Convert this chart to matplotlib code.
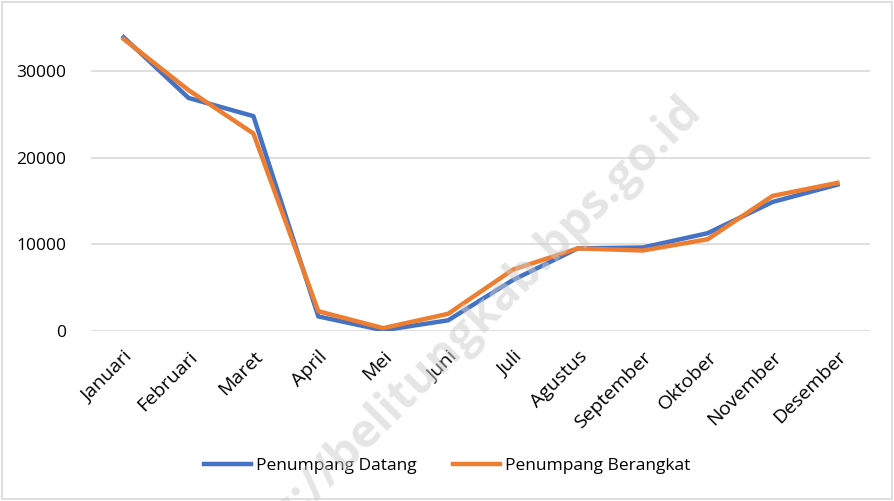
import matplotlib.pyplot as plt
from matplotlib.patches import Rectangle

bulan = ["Januari", "Februari", "Maret", "April", "Mei", "Juni", "Juli",
         "Agustus", "September", "Oktober", "November", "Desember"]
datang = [33900, 26900, 24800, 1700, 100, 1250, 5900, 9550, 9650, 11300, 14900, 16900]
berangkat = [33700, 27800, 22800, 2300, 350, 2000, 7100, 9550, 9300, 10600, 15600, 17100]
y_ticks = [0, 10000, 20000, 30000]

plt.rcParams['font.family'] = ['Open Sans', 'DejaVu Sans']

fig = plt.figure(figsize=(8.94, 5.01), dpi=100)
ax = fig.add_axes([0.102, 0.339, 0.871, 0.623])

x = list(range(len(bulan)))
ax.plot(x, datang, color="#4472C4", lw=3.2, label="Penumpang Datang",
        solid_joinstyle="round", zorder=3)
ax.plot(x, berangkat, color="#ED7D31", lw=3.2, label="Penumpang Berangkat",
        solid_joinstyle="round", zorder=4)

ax.set_xlim(-0.5, len(bulan) - 0.5)
ax.set_ylim(0, 36000)
ax.set_yticks(y_ticks)
ax.set_yticklabels([str(v) for v in y_ticks], fontsize=12.5, color="#000000")
ax.set_xticks(x)
ax.set_xticklabels(bulan, rotation=45, ha="right", rotation_mode="anchor",
                   fontsize=14)
ax.tick_params(axis="both", length=0)
ax.tick_params(axis="y", pad=18)
ax.tick_params(axis="x", pad=12)
ax.grid(axis="y", color="#d9d9d9", lw=1.2)
ax.set_axisbelow(True)
for s in ax.spines.values():
    s.set_visible(False)

fig.legend(loc="center", bbox_to_anchor=(0.5, 0.07), ncol=2, frameon=False,
           fontsize=12.5, handlelength=2.7, columnspacing=2.1, handletextpad=0.3)

# watermark
fig.text(0.505, 0.31, "https://belitungkab.bps.go.id", fontsize=34,
         fontweight="bold", color="#cccccc", alpha=0.5, rotation=45,
         ha="center", va="center", zorder=10)

fig.patches.append(Rectangle((0.002, 0.003), 0.996, 0.993, transform=fig.transFigure,
                             fill=False, edgecolor="#d9d9d9", lw=1.2))

fig.savefig("out.png", dpi=100)
